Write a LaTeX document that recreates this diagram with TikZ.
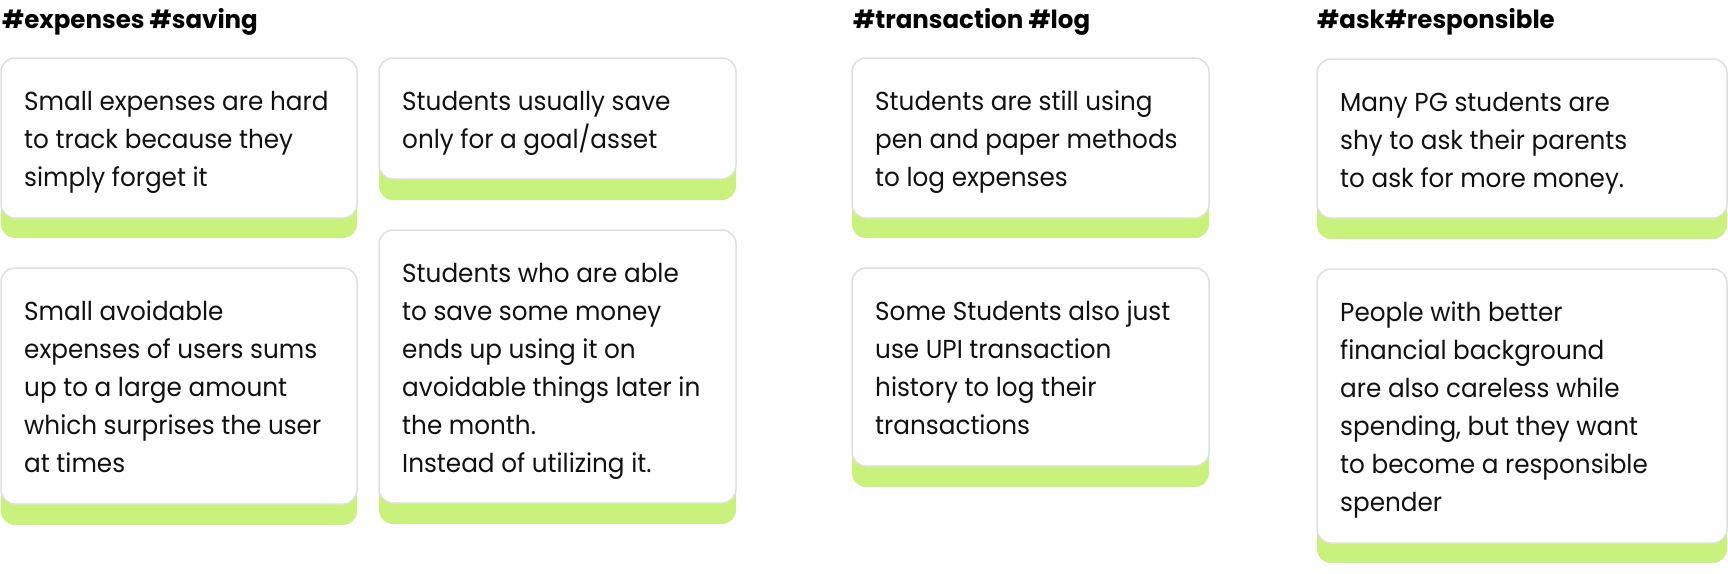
\documentclass[tikz,border=0pt]{standalone}
\usepackage{fontspec}
\setmainfont{Poppins}[FakeStretch=0.95]
\newfontfamily\headfont{Poppins}[FakeStretch=0.98]
\definecolor{cardgreen}{HTML}{C8F27B}
\definecolor{cardline}{HTML}{DFDFDF}
\definecolor{inktext}{HTML}{111111}
\tikzset{
  greenbar/.style={fill=cardgreen, rounded corners=14pt},
  whitecard/.style={fill=white, draw=cardline, line width=1.5pt, rounded corners=14pt},
  cardtxt/.style={anchor=base west, inner sep=0pt, text=inktext, font=\fontsize{26}{38}\selectfont},
  headtxt/.style={anchor=base west, inner sep=0pt, text=black, font=\headfont\bfseries\fontsize{25}{30}\selectfont}
}
\newcommand{\mycard}[7]{%
  \fill[greenbar] (#2,#3+20) rectangle (#4,#6);
  \draw[whitecard] (#2,#3) rectangle (#4,#5);
  \node[cardtxt] (#1) at (#2+23,#3+52) {\parbox[t]{390pt}{\raggedright #7}};
}
\begin{document}
\begin{tikzpicture}[x=1pt,y=-1pt]
\useasboundingbox (0,0) rectangle (1728,573);
\fill[white] (0,0) rectangle (1728,573);
\node[headtxt] (h1) at (2,28) {\#expenses \#saving};
\node[headtxt] (h2) at (853,28) {\#transaction \#log};
\node[headtxt] (h3) at (1317,28) {\#ask\#responsible};
\mycard{a}{1}{58}{357}{218}{238}{Small expenses are hard\\to track because they\\simply forget it}
\mycard{b}{379}{58}{736}{179}{200}{Students usually save\\only for a goal/asset}
\mycard{c}{1}{268}{357}{504}{525}{Small avoidable\\expenses of users sums\\up to a large amount\\which surprises the user\\at times}
\mycard{d}{379}{230}{736}{503}{524}{Students who are able\\to save some money\\ends up using it on\\avoidable things later in\\the month.\\Instead of utilizing it.}
\mycard{e}{852}{58}{1209}{218}{238}{Students are still using\\pen and paper methods\\to log expenses}
\mycard{f}{852}{268}{1209}{466}{487}{Some Students also just\\use UPI transaction\\history to log their\\transactions}
\mycard{g}{1317}{59}{1727}{218}{239}{Many PG students are\\shy to ask their parents\\to ask for more money.}
\mycard{h}{1317}{269}{1727}{543}{563}{People with better\\financial background\\are also careless while\\spending, but they want\\to become a responsible\\spender}
\end{tikzpicture}
\end{document}
